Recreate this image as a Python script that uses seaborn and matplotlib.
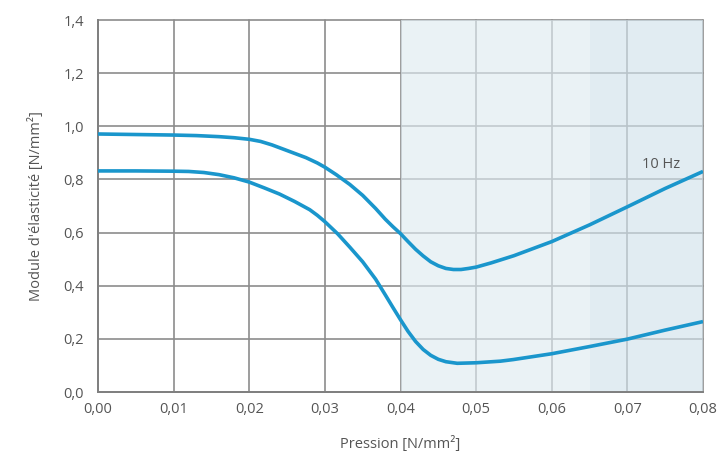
import matplotlib
matplotlib.use("Agg")
import matplotlib.pyplot as plt
import pandas as pd
import seaborn as sns

# Pressure values [N/mm²] and elastic modulus [N/mm²], upper curve
pressure_upper = [0.000, 0.005, 0.010, 0.0130, 0.0160, 0.0180, 0.020, 0.0215, 0.023,
                  0.0245, 0.026, 0.0275, 0.029, 0.030, 0.0315, 0.0333, 0.035, 0.0367,
                  0.038, 0.039, 0.040, 0.041, 0.042, 0.043, 0.044, 0.045, 0.046,
                  0.047, 0.048, 0.049, 0.050, 0.052, 0.055, 0.060, 0.065, 0.070,
                  0.075, 0.080]
modulus_upper = [0.971, 0.969, 0.967, 0.965, 0.961, 0.957, 0.951, 0.943, 0.930,
                 0.914, 0.898, 0.882, 0.862, 0.846, 0.818, 0.781, 0.740, 0.691,
                 0.650, 0.622, 0.596, 0.566, 0.537, 0.512, 0.490, 0.475, 0.465,
                 0.461, 0.461, 0.465, 0.470, 0.486, 0.513, 0.566, 0.629, 0.697,
                 0.766, 0.830]

# lower curve
pressure_lower = [0.000, 0.005, 0.010, 0.012, 0.014, 0.016, 0.018, 0.020, 0.022,
                  0.024, 0.026, 0.028, 0.029, 0.030, 0.0317, 0.0333, 0.035, 0.0367,
                  0.038, 0.039, 0.040, 0.041, 0.042, 0.043, 0.044, 0.045, 0.046,
                  0.0475, 0.050, 0.0532, 0.0549, 0.060, 0.065, 0.070, 0.075, 0.080]
modulus_lower = [0.832, 0.832, 0.831, 0.830, 0.826, 0.818, 0.806, 0.790, 0.768,
                 0.745, 0.717, 0.686, 0.665, 0.641, 0.595, 0.545, 0.490, 0.425,
                 0.365, 0.318, 0.272, 0.228, 0.190, 0.160, 0.138, 0.123, 0.114,
                 0.108, 0.110, 0.116, 0.122, 0.144, 0.171, 0.199, 0.233, 0.265]

x_ticks = [0.00, 0.01, 0.02, 0.03, 0.04, 0.05, 0.06, 0.07, 0.08]
y_ticks = [0.0, 0.2, 0.4, 0.6, 0.8, 1.0, 1.2, 1.4]

LINE = "#1a96cc"
TEXT = "#555555"

sns.set_theme(style="white")
plt.rcParams["font.family"] = ["Open Sans", "DejaVu Sans"]

df = pd.concat([
    pd.DataFrame({"p": pressure_upper, "E": modulus_upper, "curve": "upper"}),
    pd.DataFrame({"p": pressure_lower, "E": modulus_lower, "curve": "lower"}),
])

fig = plt.figure(figsize=(7.18, 4.59), dpi=100)
ax = fig.add_axes([98 / 718, 1 - 392 / 459, 605 / 718, 372 / 459])

# shaded pressure zones (semi-transparent so the grid shows through lighter)
ax.axvspan(0.04, 0.065, color=(223 / 255, 235 / 255, 241 / 255), alpha=0.65, lw=0, zorder=1)
ax.axvspan(0.065, 0.08, color=(209 / 255, 226 / 255, 235 / 255), alpha=0.65, lw=0, zorder=1)

sns.lineplot(data=df, x="p", y="E", hue="curve", palette={"upper": LINE, "lower": LINE},
             linewidth=2.6, legend=False, sort=False, ax=ax, zorder=3)
for ln in ax.get_lines():
    ln.set_solid_joinstyle("round")
    ln.set_solid_capstyle("butt")

ax.set_xlim(0, 0.08)
ax.set_ylim(0, 1.4)
ax.set_xticks(x_ticks)
ax.set_yticks(y_ticks)
ax.set_xticklabels([f"{v:.2f}".replace(".", ",") for v in x_ticks])
ax.set_yticklabels([f"{v:.1f}".replace(".", ",") for v in y_ticks])
ax.set_axisbelow(True)
ax.grid(True, color="#8c8c8c", linewidth=1.2, clip_on=False)
for s in ["top", "right"]:
    ax.spines[s].set_visible(False)
for s in ["left", "bottom"]:
    ax.spines[s].set_color("#808080")
    ax.spines[s].set_linewidth(1.4)
    ax.spines[s].set_zorder(2.5)

ax.tick_params(axis="both", length=0, labelsize=10.5, labelcolor=TEXT)
ax.tick_params(axis="y", pad=10)
ax.tick_params(axis="x", pad=7)

ax.set_xlabel("Pression [N/mm²]", fontsize=10.5, color=TEXT, labelpad=14)
ax.set_ylabel("Module d'élasticité [N/mm²]", fontsize=10.5, color=TEXT, labelpad=14)

ax.text(0.0745, 0.855, "10 Hz", fontsize=10.5, color=TEXT, ha="center", va="center", zorder=4)

fig.savefig("out.png", dpi=100)
